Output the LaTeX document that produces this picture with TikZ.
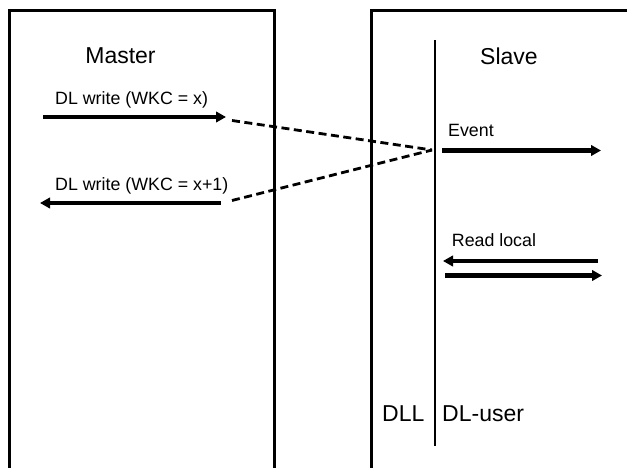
\documentclass[tikz,border=0pt]{standalone}
\usepackage{fontspec}
\setmainfont{Liberation Sans}
\usetikzlibrary{arrows.meta}
\tikzset{
  frame/.style={line width=3pt},
  layer/.style={line width=2.8pt},
  msg/.style={line width=4.5pt,-{Triangle[length=10pt,width=10.5pt]}},
  link/.style={line width=2.8pt,dash pattern=on 8pt off 4.5pt},
  big/.style={font=\fontsize{23}{27}\selectfont,inner sep=0pt,anchor=base},
  small/.style={font=\fontsize{17.8}{21}\selectfont,inner sep=0pt,anchor=base west},
}
\begin{document}
\begin{tikzpicture}[x=1pt,y=-1pt]
\useasboundingbox[fill=white] (0,0) rectangle (627,468);
% frames
\coordinate (mbl) at (9.5,470);
\coordinate (mtl) at (9.5,11);
\coordinate (mtr) at (274,11);
\coordinate (mbr) at (274,470);
\coordinate (sbl) at (371,470);
\coordinate (stl) at (371,11);
\coordinate (str) at (630,11);
\draw[frame] (mbl) -- (mtl) -- (mtr) -- (mbr);
\draw[frame] (sbl) -- (stl) -- (str);
% layer boundary
\coordinate (ltop) at (435,40);
\coordinate (lbot) at (435,446);
\draw[layer] (ltop) -- (lbot);
% titles
\node[big] (master) at (120.5,63.3) {Master};
\node[big] (slave) at (509,65) {Slave};
\node[big,anchor=base west] (dll) at (382,421) {DLL};
\node[big,anchor=base west] (dluser) at (442,421) {DL-user};
% message labels
\node[small] (w1) at (55,104.5) {DL write (WKC = x)};
\node[small] (w2) at (55,190) {DL write (WKC = x+1)};
\node[small] (ev) at (448,137) {Event};
\node[small] (rl) at (451.7,247) {Read local};
% arrows
\coordinate (a1s) at (43,117);
\coordinate (a1e) at (226,117);
\coordinate (a2s) at (221,203);
\coordinate (a2e) at (40,203);
\coordinate (d1s) at (232,120.5);
\coordinate (d2s) at (232,200.5);
\coordinate (dm) at (432,150);
\coordinate (evs) at (442,150.5);
\coordinate (eve) at (601,150.5);
\coordinate (r1s) at (598,261);
\coordinate (r1e) at (443,261);
\coordinate (r2s) at (445,275.5);
\coordinate (r2e) at (602,275.5);
\draw[msg] (a1s) -- (a1e);
\draw[msg] (a2s) -- (a2e);
\draw[link] (d1s) -- (dm);
\draw[link] (d2s) -- (dm);
\draw[msg] (evs) -- (eve);
\draw[msg] (r1s) -- (r1e);
\draw[msg] (r2s) -- (r2e);
\end{tikzpicture}
\end{document}
